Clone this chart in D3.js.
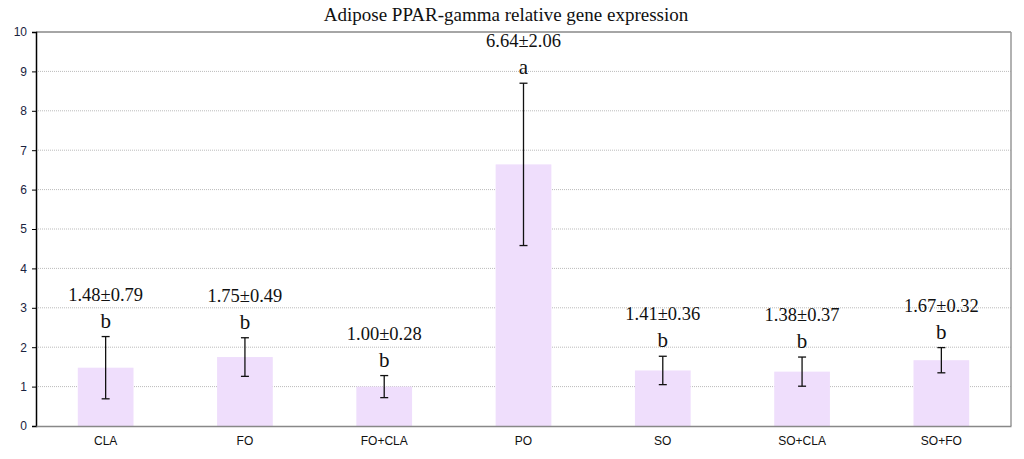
<!DOCTYPE html>
<html><head><meta charset="utf-8">
<script src="https://cdn.jsdelivr.net/npm/d3@7"></script>
<style>body{margin:0;background:#fff}svg{display:block}</style>
</head><body>
<svg id="c" width="1024" height="459"></svg>
<script>
const categories = ["CLA","FO","FO+CLA","PO","SO","SO+CLA","SO+FO"];
const means = [1.48,1.75,1.00,6.64,1.41,1.38,1.67];
const sds = [0.79,0.49,0.28,2.06,0.36,0.37,0.32];
const letters = ["b","b","b","a","b","b","b"];
const yTicks = [0,1,2,3,4,5,6,7,8,9,10];

const svg = d3.select("#c");
const m = {l:36, r:1011, t:32, b:426};
const x = d3.scaleBand().domain(categories).range([m.l, m.r]).paddingInner(0.6).paddingOuter(0.3);
const y = d3.scaleLinear().domain([0,10]).range([m.b, m.t]);

// gridlines
svg.append("g").selectAll("line").data(yTicks.filter(d=>d>0&&d<10)).join("line")
  .attr("x1", m.l).attr("x2", m.r).attr("y1", d=>y(d)).attr("y2", d=>y(d))
  .attr("stroke", "#bbb").attr("stroke-dasharray", "1,1").attr("stroke-width", 1);

// frame top/right
svg.append("line").attr("x1", m.l).attr("x2", m.r).attr("y1", m.t).attr("y2", m.t).attr("stroke", "#888").attr("stroke-width", 1.5);
svg.append("line").attr("x1", m.r).attr("x2", m.r).attr("y1", m.t).attr("y2", m.b).attr("stroke", "#999").attr("stroke-width", 1.5);

// bars
const idx = d3.range(categories.length);
svg.append("g").selectAll("rect").data(idx).join("rect")
  .attr("x", i=>x(categories[i])).attr("width", x.bandwidth())
  .attr("y", i=>y(means[i])).attr("height", i=>y(0)-y(means[i]))
  .attr("fill", "#efdefc");

// error bars
const eb = svg.append("g").attr("stroke", "#111").attr("stroke-width", 1.3);
idx.forEach(i=>{
  const cx = x(categories[i]) + x.bandwidth()/2;
  const hi = y(means[i]+sds[i]), lo = y(means[i]-sds[i]);
  eb.append("line").attr("x1", cx).attr("x2", cx).attr("y1", hi).attr("y2", lo);
  eb.append("line").attr("x1", cx-4).attr("x2", cx+4).attr("y1", hi).attr("y2", hi);
  eb.append("line").attr("x1", cx-4).attr("x2", cx+4).attr("y1", lo).attr("y2", lo);
});

// annotations
const ann = svg.append("g").attr("font-family", "'Liberation Serif','Times New Roman',serif").attr("text-anchor", "middle").attr("fill", "#111");
idx.forEach(i=>{
  const cx = x(categories[i]) + x.bandwidth()/2;
  const hi = y(means[i]+sds[i]);
  ann.append("text").attr("x", cx).attr("y", hi-9).attr("font-size", 21).text(letters[i]);
  ann.append("text").attr("x", cx).attr("y", hi-36).attr("font-size", 18.5)
    .text(means[i].toFixed(2) + "±" + sds[i].toFixed(2));
});

// axes
const yAxis = d3.axisLeft(y).tickValues(yTicks).tickSize(4).tickFormat(d3.format("d"));
const gy = svg.append("g").attr("transform", `translate(${m.l},0)`).call(yAxis);
gy.select(".domain").attr("stroke", "#000").attr("stroke-width", 1.5);
gy.selectAll(".tick line").attr("stroke", "#000");
gy.selectAll(".tick text").attr("font-family", "'Liberation Sans',Arial,sans-serif").attr("font-size", 12).attr("fill", "#1a2340").attr("x", -9);

const xAxis = d3.axisBottom(x).tickSize(0).tickPadding(10);
const gx = svg.append("g").attr("transform", `translate(0,${m.b})`).call(xAxis);
gx.select(".domain").attr("stroke", "#888").attr("stroke-width", 1.5);
gx.selectAll(".tick text").attr("font-family", "'Liberation Sans',Arial,sans-serif").attr("font-size", 12).attr("fill", "#111");

// title
svg.append("text").attr("x", 506).attr("y", 21).attr("text-anchor", "middle")
  .attr("font-family", "'Liberation Serif','Times New Roman',serif").attr("font-size", 19).attr("fill", "#111")
  .text("Adipose PPAR-gamma relative gene expression");
</script>
</body></html>
